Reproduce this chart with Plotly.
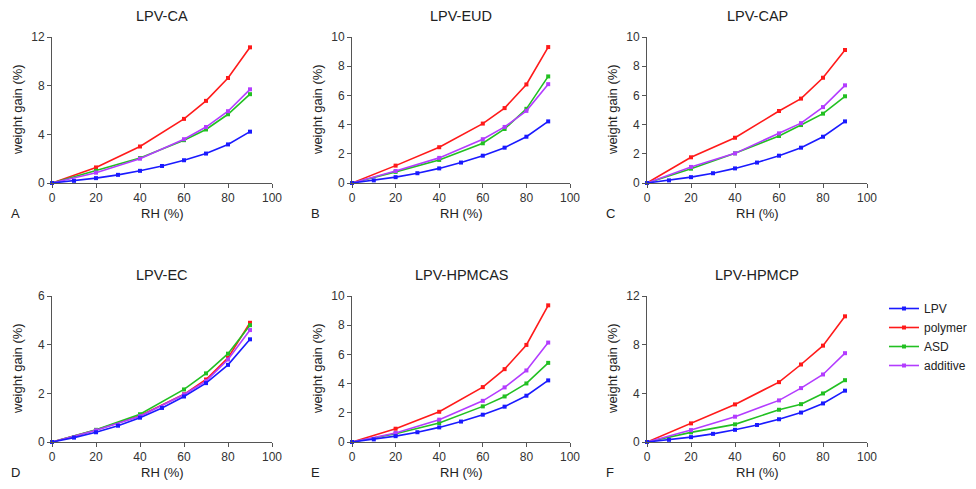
import plotly.graph_objects as go

rh_lpv = [0, 10, 20, 30, 40, 50, 60, 70, 80, 90]
rh = [0, 20, 40, 60, 70, 80, 90]
lpv = [0, 0.18, 0.40, 0.67, 1.0, 1.40, 1.87, 2.42, 3.17, 4.22]

panels = ["LPV-CA", "LPV-EUD", "LPV-CAP", "LPV-EC", "LPV-HPMCAS", "LPV-HPMCP"]
letters = ["A", "B", "C", "D", "E", "F"]
ymax = [12, 10, 10, 6, 10, 12]
ydtick = [4, 2, 2, 2, 2, 4]

polymer = {
    "LPV-CA": [0, 1.28, 3.0, 5.27, 6.75, 8.63, 11.15],
    "LPV-EUD": [0, 1.19, 2.45, 4.07, 5.13, 6.75, 9.31],
    "LPV-CAP": [0, 1.76, 3.1, 4.93, 5.78, 7.21, 9.11],
    "LPV-EC": [0, 0.49, 1.08, 1.96, 2.57, 3.46, 4.9],
    "LPV-HPMCAS": [0, 0.91, 2.07, 3.76, 4.99, 6.65, 9.36],
    "LPV-HPMCP": [0, 1.53, 3.09, 4.92, 6.37, 7.92, 10.33],
}
asd = {
    "LPV-CA": [0, 1.0, 2.05, 3.52, 4.4, 5.65, 7.3],
    "LPV-EUD": [0, 0.76, 1.58, 2.72, 3.7, 5.08, 7.3],
    "LPV-CAP": [0, 0.98, 2.03, 3.22, 3.97, 4.75, 5.94],
    "LPV-EC": [0, 0.5, 1.14, 2.16, 2.82, 3.63, 4.8],
    "LPV-HPMCAS": [0, 0.57, 1.3, 2.44, 3.12, 4.01, 5.42],
    "LPV-HPMCP": [0, 0.79, 1.45, 2.65, 3.11, 3.99, 5.08],
}
additive = {
    "LPV-CA": [0, 0.85, 2.0, 3.6, 4.6, 5.9, 7.7],
    "LPV-EUD": [0, 0.82, 1.72, 3.0, 3.84, 4.94, 6.77],
    "LPV-CAP": [0, 1.1, 2.03, 3.4, 4.1, 5.2, 6.69],
    "LPV-EC": [0, 0.48, 1.06, 1.95, 2.5, 3.39, 4.6],
    "LPV-HPMCAS": [0, 0.62, 1.53, 2.82, 3.74, 4.9, 6.81],
    "LPV-HPMCP": [0, 0.98, 2.08, 3.42, 4.43, 5.55, 7.3],
}

series_names = ["LPV", "polymer", "ASD", "additive"]
colors = {"LPV": "#1a1aff", "polymer": "#ff1a1a", "ASD": "#22c022", "additive": "#b33cff"}

# page body has an 8px margin: figure is placed at (8, 8)
OFF = 8
W, H = 960, 473
xpix = [(52, 272), (352, 570), (647, 867)]
ypix = [(37, 183), (296, 442)]


def px(x):
    return (x - OFF) / W


def py(y):
    return 1 - (y - OFF) / H


FONT = "Liberation Sans, Arial, sans-serif"
fig = go.Figure()
annotations = []

for i, name in enumerate(panels):
    r, c = divmod(i, 3)
    x0, x1 = xpix[c]
    yt, yb = ypix[r]
    xa = "x" if i == 0 else f"x{i+1}"
    ya = "y" if i == 0 else f"y{i+1}"
    data = [
        ("LPV", rh_lpv, lpv),
        ("polymer", rh, polymer[name]),
        ("ASD", rh, asd[name]),
        ("additive", rh, additive[name]),
    ]
    for sname, xs, ys in [data[1], data[2], data[3], data[0]]:
        fig.add_trace(go.Scatter(
            x=xs, y=ys, mode="lines+markers", name=sname,
            line=dict(color=colors[sname], width=1.6),
            marker=dict(symbol="square", size=4, color=colors[sname]),
            xaxis=xa, yaxis=ya, showlegend=False, cliponaxis=False,
        ))
    axis_common = dict(showgrid=False, zeroline=False, showline=True, linecolor="#555",
                       linewidth=1, ticks="outside", ticklen=4, tickcolor="#555",
                       tickfont=dict(family=FONT, size=12, color="#333"))
    xkey = "xaxis" if i == 0 else f"xaxis{i+1}"
    ykey = "yaxis" if i == 0 else f"yaxis{i+1}"
    fig.update_layout({
        xkey: dict(domain=[px(x0), px(x1)], range=[0, 100], dtick=20, anchor=ya, **axis_common),
        ykey: dict(domain=[py(yb), py(yt)], range=[0, ymax[i]], dtick=ydtick[i], anchor=xa, **axis_common),
    })
    cx = (x0 + x1) / 2
    common = dict(xref="paper", yref="paper", showarrow=False, xanchor="center", yanchor="middle")
    annotations.append(dict(x=px(cx), y=py(yt - 21), text=name,
                            font=dict(family=FONT, size=14.5, color="#222"), **common))
    annotations.append(dict(x=px(cx), y=py(yb + 30), text="RH (%)",
                            font=dict(family=FONT, size=13, color="#222"), **common))
    annotations.append(dict(x=px(x0 - 37), y=py(yb + 30), text=letters[i],
                            font=dict(family=FONT, size=13, color="#222"), **common))
    annotations.append(dict(x=px(x0 - 35), y=py((yt + yb) / 2), text="weight gain (%)", textangle=-90,
                            font=dict(family=FONT, size=13, color="#222"), **common))

for sname in series_names:
    fig.add_trace(go.Scatter(
        x=[None], y=[None], mode="lines+markers", name=sname,
        line=dict(color=colors[sname], width=1.6),
        marker=dict(symbol="square", size=4, color=colors[sname]),
        showlegend=True,
    ))

fig.update_layout(
    width=W, height=H, margin=dict(l=0, r=0, t=0, b=0, autoexpand=False),
    paper_bgcolor="white", plot_bgcolor="white",
    annotations=annotations,
    showlegend=True,
    legend=dict(x=px(884), y=py(294), xanchor="left", yanchor="top",
                font=dict(family=FONT, size=12, color="#222"), tracegroupgap=0,
                itemwidth=30, bgcolor="rgba(0,0,0,0)", tracegroupgap_=None) if False else
           dict(x=px(884), y=py(294), xanchor="left", yanchor="top",
                font=dict(family=FONT, size=12, color="#222"), tracegroupgap=0,
                itemwidth=30, bgcolor="rgba(0,0,0,0)"),
)

fig.write_html("out.html")
